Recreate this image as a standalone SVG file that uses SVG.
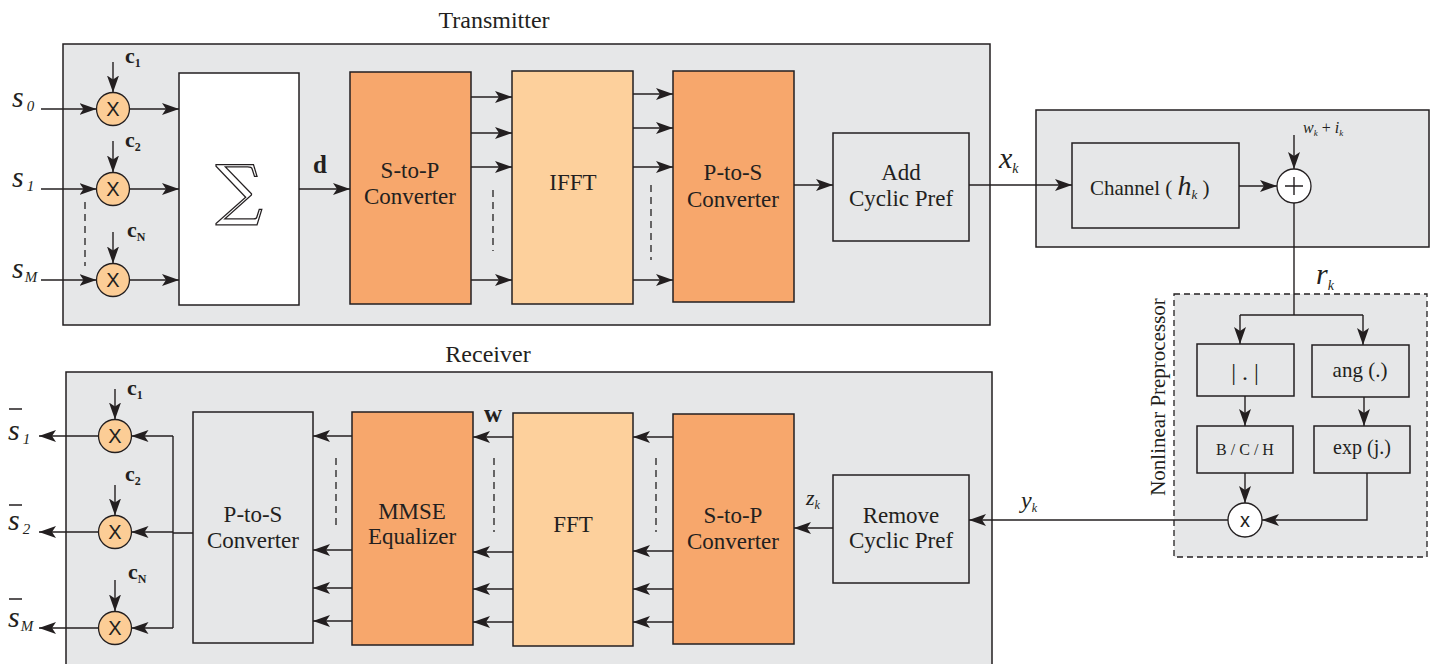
<svg xmlns="http://www.w3.org/2000/svg" width="1432" height="664" viewBox="0 0 1432 664">
<defs>
<marker id="ah" viewBox="0 0 17 12" refX="17" refY="6" markerWidth="17" markerHeight="12" markerUnits="userSpaceOnUse" orient="auto">
<path d="M0,0 L17,6 L0,12 L4,6 z" fill="#231F20"/>
</marker>
<style>
.bg{fill:#E6E7E8;stroke:#231F20;stroke-width:1.5}
.dash{fill:#E6E7E8;stroke:#231F20;stroke-width:1.3;stroke-dasharray:6,4}
.box{fill:#E6E7E8;stroke:#231F20;stroke-width:1.5}
.wbox{fill:#FFFFFF;stroke:#231F20;stroke-width:1.5}
.or{fill:#F7A76C;stroke:#231F20;stroke-width:1.5}
.lo{fill:#FDD09C;stroke:#231F20;stroke-width:1.5}
.mul{fill:#FCCD96;stroke:#231F20;stroke-width:1.3}
.wc{fill:#FFFFFF;stroke:#231F20;stroke-width:1.3}
.ln{fill:none;stroke:#231F20;stroke-width:1.4}
.ar{fill:none;stroke:#231F20;stroke-width:1.4;marker-end:url(#ah)}
.dl{fill:none;stroke:#231F20;stroke-width:1.3;stroke-dasharray:7,5}
text{font-family:"Liberation Serif","Times New Roman",serif;fill:#231F20}
.t{font-size:23px;text-anchor:middle}
.ttl{font-size:24px;text-anchor:middle}
.x{font-family:"Liberation Sans",Arial,sans-serif;font-size:20px;text-anchor:middle}
.it{font-style:italic}
.b{font-weight:bold}
</style>
</defs>

<!-- background panels -->
<g id="transmitter">
<rect class="bg" x="63" y="44" width="927" height="281"/>
<text class="ttl" x="494" y="28">Transmitter</text>
</g>
<g id="receiver">
<rect class="bg" x="66" y="372" width="926" height="300"/>
<text class="ttl" x="488" y="362">Receiver</text>
</g>
<g id="channel-panel">
<rect class="bg" x="1036" y="110" width="393" height="137"/>
</g>
<g id="nonlinear-preprocessor">
<rect class="dash" x="1174" y="294" width="253" height="263"/>
<text font-size="21" text-anchor="middle" transform="translate(1165,397) rotate(-90)">Nonlinear Preprocessor</text>
</g>

<!-- transmitter nodes -->
<g id="tx-mul0"><circle class="mul" cx="113" cy="109" r="16.5"/><text class="x" x="113" y="116">X</text></g>
<g id="tx-mul1"><circle class="mul" cx="113" cy="189" r="16.5"/><text class="x" x="113" y="196">X</text></g>
<g id="tx-mulM"><circle class="mul" cx="113" cy="280" r="16.5"/><text class="x" x="113" y="287">X</text></g>
<g id="sum"><rect class="wbox" x="179" y="73" width="120" height="232"/>
<text x="239" y="212" font-size="66" text-anchor="middle" style="fill:#FFFFFF;stroke:#231F20;stroke-width:1.3;font-family:'DejaVu Serif','Liberation Serif',serif">∑</text></g>
<g id="tx-s2p"><rect class="or" x="350" y="72" width="121" height="232"/>
<text class="t" x="410" y="178">S-to-P</text><text class="t" x="410" y="204">Converter</text></g>
<g id="ifft"><rect class="lo" x="512" y="71" width="121" height="233"/>
<text class="t" x="573" y="190">IFFT</text></g>
<g id="tx-p2s"><rect class="or" x="673" y="71" width="121" height="231"/>
<text class="t" x="733" y="180">P-to-S</text><text class="t" x="733" y="207">Converter</text></g>
<g id="add-cp"><rect class="box" x="833" y="133" width="136" height="108"/>
<text class="t" x="901" y="180">Add</text><text class="t" x="901" y="206">Cyclic Pref</text></g>

<!-- channel nodes -->
<g id="channel"><rect class="box" x="1072" y="143" width="167" height="85"/>
<text font-size="21" x="1090" y="195">Channel ( <tspan class="it" font-size="28">h</tspan><tspan class="it" font-size="13" dy="4">k</tspan><tspan dy="-4"> )</tspan></text></g>
<g id="adder"><circle class="wc" cx="1294" cy="186" r="17"/>
<path class="ln" d="M1285,186 H1303 M1294,177 V195" stroke-width="1.6"/></g>

<!-- nonlinear preprocessor nodes -->
<g id="abs"><rect class="box" x="1197" y="344" width="97" height="52"/>
<text x="1245" y="380" font-size="24" text-anchor="middle">| . |</text></g>
<g id="ang"><rect class="box" x="1312" y="345" width="97" height="52"/>
<text x="1360" y="377" font-size="21" text-anchor="middle">ang (.)</text></g>
<g id="bch"><rect class="box" x="1197" y="426" width="96" height="47"/>
<text x="1245" y="455" font-size="16" text-anchor="middle">B / C / H</text></g>
<g id="exp"><rect class="box" x="1314" y="426" width="96" height="47"/>
<text x="1362" y="454" font-size="20" text-anchor="middle">exp (j.)</text></g>
<g id="nl-mul"><circle class="wc" cx="1245" cy="520" r="17"/><text class="x" x="1245" y="527" font-size="22">x</text></g>

<!-- receiver nodes -->
<g id="remove-cp"><rect class="box" x="833" y="475" width="136" height="108"/>
<text class="t" x="901" y="523">Remove</text><text class="t" x="901" y="548">Cyclic Pref</text></g>
<g id="rx-s2p"><rect class="or" x="673" y="414" width="121" height="230"/>
<text class="t" x="733" y="523">S-to-P</text><text class="t" x="733" y="549">Converter</text></g>
<g id="fft"><rect class="lo" x="513" y="413" width="120" height="233"/>
<text class="t" x="573" y="532">FFT</text></g>
<g id="mmse"><rect class="or" x="352" y="412" width="121" height="233"/>
<text class="t" x="412" y="519">MMSE</text><text class="t" x="412" y="544">Equalizer</text></g>
<g id="rx-p2s"><rect class="box" x="193" y="412" width="120" height="231"/>
<text class="t" x="253" y="522">P-to-S</text><text class="t" x="253" y="548">Converter</text></g>
<g id="rx-mul1"><circle class="mul" cx="115" cy="436" r="16.5"/><text class="x" x="115" y="443">X</text></g>
<g id="rx-mul2"><circle class="mul" cx="115" cy="532" r="16.5"/><text class="x" x="115" y="539">X</text></g>
<g id="rx-mulM"><circle class="mul" cx="115" cy="628" r="16.5"/><text class="x" x="115" y="635">X</text></g>

<!-- connectors -->
<g id="connectors">
<path class="ar" d="M41,109 H96.5"/>
<path class="ar" d="M41,189 H96.5"/>
<path class="ar" d="M41,280 H96.5"/>
<path class="ar" d="M113,62 V92.5"/>
<path class="ar" d="M113,141 V172.5"/>
<path class="ar" d="M113,232 V263.5"/>
<path class="dl" d="M85,202 V266"/>
<path class="ar" d="M129.5,109 H179"/>
<path class="ar" d="M129.5,189 H179"/>
<path class="ar" d="M129.5,280 H179"/>
<path class="ar" d="M299,189 H350"/>
<path class="ar" d="M471,97 H512"/>
<path class="ar" d="M471,133 H512"/>
<path class="ar" d="M471,167 H512"/>
<path class="ar" d="M471,280 H512"/>
<path class="dl" d="M493,190 V251"/>
<path class="ar" d="M633,94 H673"/>
<path class="ar" d="M633,128 H673"/>
<path class="ar" d="M633,167 H673"/>
<path class="ar" d="M633,280 H673"/>
<path class="dl" d="M651,185 V260"/>
<path class="ar" d="M794,185 H833"/>
<path class="ar" d="M969,185 H1072"/>
<path class="ar" d="M1239,186 H1277"/>
<path class="ar" d="M1294,135 V169"/>
<path class="ln" d="M1294,203 V315"/>
<path class="ln" d="M1240,315 H1363"/>
<path class="ar" d="M1240,315 V344"/>
<path class="ar" d="M1363,315 V345"/>
<path class="ar" d="M1245,396 V426"/>
<path class="ar" d="M1364,397 V426"/>
<path class="ar" d="M1245,473 V503"/>
<path class="ar" d="M1367,473 V520 H1262"/>
<path class="ar" d="M1228,520 H969"/>
<path class="ar" d="M833,528 H794"/>
<path class="ar" d="M673,437 H633"/>
<path class="ar" d="M673,551 H633"/>
<path class="ar" d="M673,589 H633"/>
<path class="ar" d="M673,622 H633"/>
<path class="dl" d="M656,458 V532"/>
<path class="ar" d="M513,437 H473"/>
<path class="ar" d="M513,552 H473"/>
<path class="ar" d="M513,589 H473"/>
<path class="ar" d="M513,622 H473"/>
<path class="dl" d="M494,458 V532"/>
<path class="ar" d="M352,436 H313"/>
<path class="ar" d="M352,550 H313"/>
<path class="ar" d="M352,588 H313"/>
<path class="ar" d="M352,621 H313"/>
<path class="dl" d="M336,458 V530"/>
<path class="ln" d="M193,533 H173 M173,436 V628"/>
<path class="ar" d="M173,436 H131.5"/>
<path class="ar" d="M173,532 H131.5"/>
<path class="ar" d="M173,628 H131.5"/>
<path class="ar" d="M115,389 V419.5"/>
<path class="ar" d="M115,485 V515.5"/>
<path class="ar" d="M115,580 V611.5"/>
<path class="ar" d="M98.5,436 H39"/>
<path class="ar" d="M98.5,532 H39"/>
<path class="ar" d="M98.5,628 H39"/>
</g>

<!-- labels -->
<g id="labels">
<text class="it" font-size="30" x="12" y="107">s<tspan font-size="15" dx="3" dy="4">0</tspan></text>
<text class="it" font-size="30" x="12" y="187">s<tspan font-size="15" dx="3" dy="4">1</tspan></text>
<text class="it" font-size="30" x="12" y="278">s<tspan font-size="15" dx="1" dy="4">M</tspan></text>
<text class="b" font-size="22" x="125" y="63">c<tspan font-size="12" dy="4">1</tspan></text>
<text class="b" font-size="22" x="125" y="147">c<tspan font-size="12" dy="4">2</tspan></text>
<text class="b" font-size="22" x="127" y="237">c<tspan font-size="12" dy="4">N</tspan></text>
<text class="b" font-size="25" x="313" y="173">d</text>
<text class="it" font-size="30" x="999" y="168">x<tspan font-size="14" dy="5">k</tspan></text>
<text class="it" font-size="16" x="1303" y="133">w<tspan font-size="9" dy="3">k</tspan><tspan font-style="normal" dy="-3"> + </tspan>i<tspan font-size="9" dy="3">k</tspan></text>
<text class="it" font-size="30" x="1316" y="284">r<tspan font-size="14" dy="6">k</tspan></text>
<text class="it" font-size="24" x="1021" y="508">y<tspan font-size="12" dy="4">k</tspan></text>
<text class="it" font-size="22" x="806" y="505">z<tspan font-size="12" dy="4">k</tspan></text>
<text class="b" font-size="25" x="484" y="422">w</text>
<text class="b" font-size="22" x="127" y="395">c<tspan font-size="12" dy="4">1</tspan></text>
<text class="b" font-size="22" x="125" y="481">c<tspan font-size="12" dy="4">2</tspan></text>
<text class="b" font-size="22" x="128" y="579">c<tspan font-size="12" dy="4">N</tspan></text>
<text class="it" font-size="30" x="8" y="440">s<tspan font-size="15" dx="3" dy="4">1</tspan></text>
<text class="it" font-size="30" x="8" y="530">s<tspan font-size="15" dx="3" dy="4">2</tspan></text>
<text class="it" font-size="30" x="8" y="627">s<tspan font-size="15" dx="1" dy="4">M</tspan></text>
<path class="ln" d="M9,409 H22 M9,505 H22 M9,599 H22" stroke-width="1.8"/>
</g>
</svg>
